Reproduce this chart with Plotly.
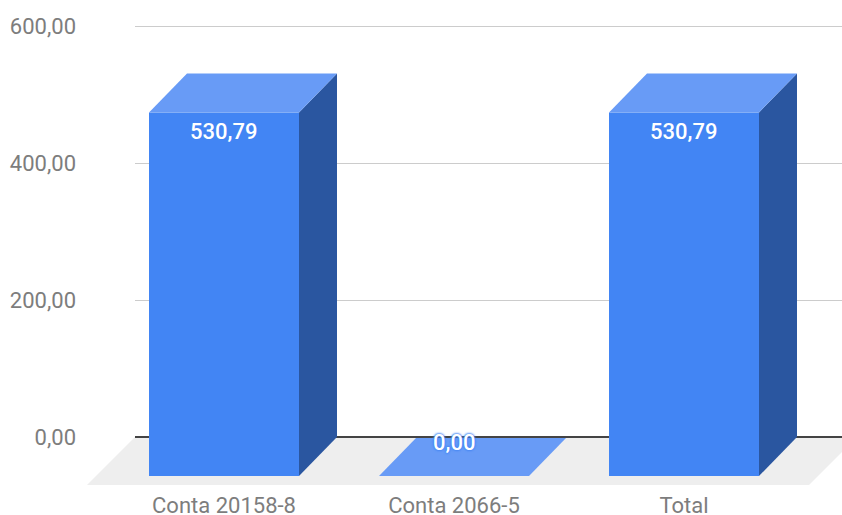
import plotly.graph_objects as go

categories = ["Conta 20158-8", "Conta 2066-5", "Total"]
values = [530.79, 0.0, 530.79]
y_ticks = [0, 200, 400, 600]

W, H = 842, 515
PX_PER_UNIT = 0.685
PX_PER_CAT = 230
ZERO_PX = 437
BOTTOM_PX = 490
LEFT_PX = 135
CENTER0_PX = 224

y_low = (ZERO_PX - BOTTOM_PX) / PX_PER_UNIT
y_high = ZERO_PX / PX_PER_UNIT
x_low = -CENTER0_PX / PX_PER_CAT
x_high = (W - CENTER0_PX) / PX_PER_CAT

half = 75 / PX_PER_CAT
dx = 38 / PX_PER_CAT
dy = 39 / PX_PER_UNIT

FRONT, TOP, SIDE = "#4285f4", "#689bf6", "#2a56a0"
TEXT = "#7d7d7d"
FONT_SIZE = 22


def fmt(v):
    return f"{v:.2f}".replace(".", ",")


def poly(xs, ys, color):
    return go.Scatter(x=xs + xs[:1], y=ys + ys[:1], mode="lines", fill="toself",
                      fillcolor=color, line=dict(width=0), hoverinfo="skip",
                      showlegend=False, xaxis="x2", yaxis="y2")


def bar_traces(i, v):
    xl, xr = i - half, i + half
    base, front_top = -dy, v - dy
    out = []
    if v > 0:
        out.append(poly([xl, xr, xr, xl], [base, base, front_top, front_top], FRONT))
        out.append(poly([xr, xr + dx, xr + dx, xr], [base, 0, v, front_top], SIDE))
    out.append(poly([xl, xr, xr + dx, xl + dx], [front_top, front_top, v, v], TOP))
    return out


fig = go.Figure()
# carrier of the background axis (gridlines and value labels)
fig.add_trace(go.Scatter(x=[0], y=[0], mode="markers", marker=dict(opacity=0),
                         hoverinfo="skip", showlegend=False, xaxis="x", yaxis="y"))

# floor
floor_low = -48 / PX_PER_UNIT
floor_l = (87 - CENTER0_PX) / PX_PER_CAT
floor_r = (809 - CENTER0_PX) / PX_PER_CAT
floor_dx = 48 / PX_PER_CAT
fig.add_trace(poly([floor_l, floor_r, floor_r + floor_dx, floor_l + floor_dx],
                   [floor_low, floor_low, 0, 0], "#eeeeee"))

# flat bars sit under the baseline, tall bars above it
for i, v in enumerate(values):
    if v == 0:
        for t in bar_traces(i, v):
            fig.add_trace(t)

fig.add_trace(go.Scatter(x=[(LEFT_PX - CENTER0_PX) / PX_PER_CAT, x_high], y=[0, 0], mode="lines",
                         line=dict(color="#444444", width=2), hoverinfo="skip",
                         showlegend=False, xaxis="x2", yaxis="y2"))

for i, v in enumerate(values):
    if v > 0:
        for t in bar_traces(i, v):
            fig.add_trace(t)

annotations = []
for i, v in enumerate(values):
    flat = v == 0
    annotations.append(dict(
        x=i, y=v if flat else v - dy, xref="x2", yref="y2", text=fmt(v), showarrow=False,
        yshift=-5 if flat else -19, xshift=0 if flat else -1, yanchor="middle", xanchor="center",
        font=dict(family="Roboto", size=FONT_SIZE, color="#ffffff", weight=500,
                  shadow=("0 0 2px #4285f4, 0 0 2px #4285f4, 0 0 3px #4285f4" if flat else "none")),
    ))

dom_y = [(H - BOTTOM_PX) / H, 1]
fig.update_layout(
    width=W, height=H, autosize=False, margin=dict(l=0, r=0, t=0, b=0),
    paper_bgcolor="white", plot_bgcolor="rgba(0,0,0,0)",
    showlegend=False, annotations=annotations,
    font=dict(family="Roboto", size=FONT_SIZE, color=TEXT),
    xaxis=dict(domain=[LEFT_PX / W, 1], range=[(LEFT_PX - CENTER0_PX) / PX_PER_CAT, x_high],
               visible=False, anchor="y", automargin=False),
    yaxis=dict(domain=dom_y, range=[y_low, y_high], anchor="x", tickmode="array",
               tickvals=y_ticks, ticktext=[fmt(t) for t in y_ticks], showgrid=True,
               gridcolor="#cccccc", gridwidth=1, zeroline=False, showline=False, ticks="",
               automargin=False, ticklabelstandoff=58,
               tickfont=dict(family="Roboto", size=FONT_SIZE, color=TEXT)),
    xaxis2=dict(domain=[0, 1], range=[x_low, x_high], anchor="y2", tickmode="array",
                tickvals=list(range(len(categories))), ticktext=categories, showgrid=False,
                zeroline=False, showline=False, ticks="", automargin=False,
                tickfont=dict(family="Roboto", size=FONT_SIZE, color=TEXT)),
    yaxis2=dict(domain=dom_y, range=[y_low, y_high], anchor="x2", visible=False, automargin=False),
)

fig.write_html("out.html", config=dict(displayModeBar=False),
               post_script="document.body.style.margin='0';")
